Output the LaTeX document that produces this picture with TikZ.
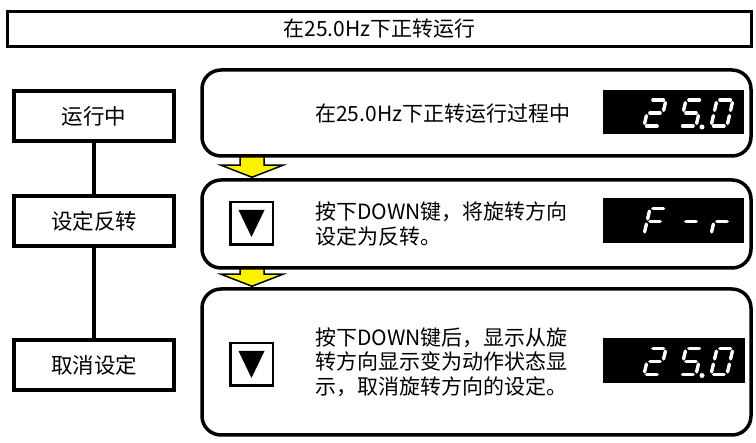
\documentclass[tikz,border=0pt]{standalone}
\usepackage{fontspec}
\setmainfont{Noto Sans CJK SC}
\usepackage{tikz}
\usetikzlibrary{calc, backgrounds}

\tikzset{
  seg a/.style={insert path={(0.18,1) -- (0.84,1)}},
  seg b/.style={insert path={(1,0.90) -- (1,0.60)}},
  seg c/.style={insert path={(1,0.40) -- (1,0.10)}},
  seg d/.style={insert path={(0.16,0) -- (0.82,0)}},
  seg e/.style={insert path={(0,0.10) -- (0,0.40)}},
  seg f/.style={insert path={(0,0.60) -- (0,0.90)}},
  seg g/.style={insert path={(0.18,0.5) -- (0.82,0.5)}}
}

% one slanted 7-segment character, origin = bottom left
\newcommand\lcdchar[3]{%
  \begin{scope}[shift={(#1,#2)}, x={(16pt,0pt)}, y={(6pt,26pt)}]
    \foreach \s in {#3} {%
      \edef\segcmd{\noexpand\draw[lcdseg] [seg \s];}\segcmd}
  \end{scope}}

% yellow arrow between two stage boxes
\newcommand\flowarrow[2]{%
  \filldraw[flow] ($(#1)+(-12,-4)$) -- ($(#2)+(-12,-13)$) -- ($(#2)+(-31,-13)$)
    -- ($(#2)+(0,-1)$) -- ($(#2)+(31,-13)$) -- ($(#2)+(12,-13)$)
    -- ($(#1)+(12,-4)$) -- cycle;}

\begin{document}
\begin{tikzpicture}[x=1pt, y=-1pt,
    every node/.style={font=\fontsize{21}{24.5}\selectfont},
    title/.style={draw, line width=3pt, minimum width=744pt, minimum height=35pt,
                  inner sep=0pt},
    stage/.style={draw, line width=4pt, minimum width=160pt, minimum height=50pt,
                  inner sep=0pt, font=\fontsize{21.5}{24}\selectfont},
    opbox/.style={draw, line width=3.5pt, rounded corners=19pt, fill=white,
                  minimum width=549pt, inner sep=0pt},
    keybtn/.style={draw, line width=2.5pt, fill=white, minimum size=42.5pt,
                   inner sep=0pt},
    lcd/.style={fill=black, minimum width=141pt, minimum height=45pt, inner sep=0pt},
    lcdseg/.style={white, line width=3.4pt, line cap=round},
    txt/.style={anchor=west, align=left, inner sep=0pt},
    flow/.style={fill=yellow, draw=black, line width=1.5pt, line join=miter}
  ]
    \useasboundingbox (0,0) rectangle (756,443);

    % Title
    \node[title] (head) at (379.5,29) {在25.0Hz下正转运行};

    % Left steps
    \node[stage] (run) at (94,116) {运行中};
    \node[stage] (rev) at (94,221) {设定反转};
    \node[stage] (undo) at (94,365.5) {取消设定};
    \draw[line width=4.5pt] (run) -- (rev);
    \draw[line width=4.5pt] (rev) -- (undo);

    % Right panels
    \node[opbox, minimum height=86pt] (op1) at (476.5,113) {};
    \node[opbox, minimum height=88pt] (op2) at (476.5,224) {};
    \node[opbox, minimum height=146pt] (op3) at (476.5,362) {};

    \begin{scope}[on background layer]
      \flowarrow{op1.south -| 252,0}{op2.north -| 252,0}
      \flowarrow{op2.south -| 252,0}{op3.north -| 252,0}
    \end{scope}

    \node[txt] (t1) at (315,114) {在25.0Hz下正转运行过程中};
    \node[txt] (t2) at (315,224) {按下DOWN键，将旋转方向\\设定为反转。};
    \node[txt] (t3) at (315,362) {按下DOWN键后，显示从旋\\转方向显示变为动作状态显\\示，取消旋转方向的设定。};

    % DOWN keys
    \node[keybtn] (btn1) at (251.5,223.5) {};
    \node[keybtn] (btn2) at (251.5,364.5) {};
    \foreach \b in {btn1, btn2}
      \fill ([shift={(-13,-13.5)}]\b.center) -- ([shift={(13,-13.5)}]\b.center)
        -- ([shift={(0,13.5)}]\b.center) -- cycle;

    % Displays
    \node[lcd, minimum height=44pt] (lcd1) at (673.5,112) {};
    \node[lcd] (lcd2) at (673.5,220.5) {};
    \node[lcd, minimum width=142pt] (lcd3) at (674,360.5) {};

    \lcdchar{644}{126}{a,b,g,e,d}
    \lcdchar{680}{126}{a,f,g,c,d}
    \fill[white] (702,127) circle (2.5pt);
    \lcdchar{711}{126}{a,b,c,d,e,f}

    \lcdchar{644}{234.5}{a,f,e,g}
    \lcdchar{680}{234.5}{g}
    \lcdchar{711}{234.5}{e,g}

    \lcdchar{644}{374.5}{a,b,g,e,d}
    \lcdchar{680}{374.5}{a,f,g,c,d}
    \fill[white] (702,375.5) circle (2.5pt);
    \lcdchar{711}{374.5}{a,b,c,d,e,f}
  \end{tikzpicture}
\end{document}
